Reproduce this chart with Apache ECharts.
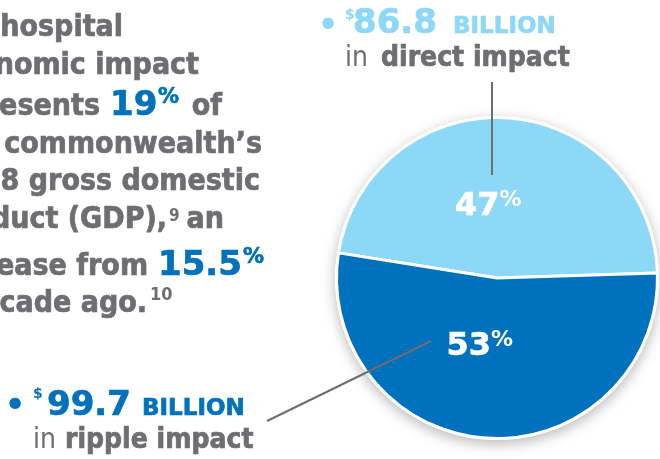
<!DOCTYPE html>
<html>
<head>
<meta charset="utf-8">
<script src="https://cdn.jsdelivr.net/npm/echarts@6/dist/echarts.min.js"></script>
<style>
  html, body { margin: 0; padding: 0; background: #ffffff; }
  #chart { width: 660px; height: 459px; }
</style>
</head>
<body>
<div id="chart"></div>
<script>
// Impact split (share of total, percent) and the dollar amounts behind it
const categories = ['direct impact', 'ripple impact'];
const sharePct = [47, 53];
const billions = ['86.8', '99.7'];

// Headline figures quoted in the paragraph
const gdpSharePct = '19';
const gdpSharePrevPct = '15.5';

const GRAY = '#6d6e71';
const LIGHT = '#8dd7f7';
const DARK = '#0071bc';
const BODY_FONT = '"DejaVu Sans Condensed", "DejaVu Sans", sans-serif';
const NUM_FONT = '"DejaVu Sans", sans-serif';

const PIE_CX = 497, PIE_CY = 278, PIE_R = 160;

// Text placed by its baseline (middle anchor sits ~0.25em above it);
// bold runs get a thin same-colour outline for a heavier stroke weight
function txt(str, x, base, size, opts) {
  opts = opts || {};
  const weight = opts.weight || 'bold';
  const family = opts.family || BODY_FONT;
  const color = opts.color || GRAY;
  const style = {
    text: str,
    fill: color,
    font: weight + ' ' + size + 'px ' + family,
    align: opts.align || 'left',
    verticalAlign: 'middle'
  };
  if (weight === 'bold' && size >= 20) {
    style.stroke = color;
    style.lineWidth = 0.7;
  }
  return { type: 'text', x: x, y: base - 0.25 * size, z: 10, silent: true, style: style };
}

const graphics = [
  // backdrop disc: white rim with a soft drop shadow
  {
    type: 'circle', z: 0, silent: true,
    shape: { cx: PIE_CX, cy: PIE_CY, r: PIE_R + 2 },
    style: { fill: '#ffffff', shadowBlur: 14, shadowOffsetY: 4, shadowColor: 'rgba(0,0,0,0.28)' }
  },

  // paragraph
  txt('The hospital', 123, 36, 30, { align: 'right' }),
  txt('economic impact', 199, 74, 30, { align: 'right' }),
  txt('represents', 100, 115, 30, { align: 'right' }),
  txt(gdpSharePct, 110, 115, 34, { color: DARK, family: NUM_FONT }),
  txt('%', 158, 103, 21, { color: DARK, family: NUM_FONT }),
  txt('of', 222, 115, 30, { align: 'right' }),
  txt('the commonwealth\u2019s', 262, 153, 30, { align: 'right' }),
  txt('2018 gross domestic', 260, 190, 30, { align: 'right' }),
  txt('product (GDP),', 167, 228, 30, { align: 'right' }),
  txt('9', 169, 221, 17),
  txt('an', 224, 228, 30, { align: 'right' }),
  txt('increase from', 148, 275, 30, { align: 'right' }),
  txt(gdpSharePrevPct, 158, 275, 34, { color: DARK, family: NUM_FONT }),
  txt('%', 243, 263, 21, { color: DARK, family: NUM_FONT }),
  txt('a decade ago.', 147, 312, 30, { align: 'right' }),
  txt('10', 150, 300, 18),

  // direct impact callout
  txt('\u2022', 328, 35, 30, { color: LIGHT, align: 'center', family: NUM_FONT }),
  txt('$', 345, 19, 14, { color: LIGHT, family: NUM_FONT }),
  txt(billions[0], 353, 33, 34, { color: LIGHT, family: NUM_FONT }),
  txt('BILLION', 453, 33, 23, { color: LIGHT, family: NUM_FONT }),
  txt('in', 345, 66, 28, { weight: 'normal' }),
  txt(categories[0], 381, 66, 28),
  { type: 'line', z: 5, silent: true,
    shape: { x1: 492, y1: 82, x2: 492, y2: 175 },
    style: { stroke: GRAY, lineWidth: 2 } },

  // ripple impact callout
  txt('\u2022', 15, 415, 30, { color: DARK, align: 'center', family: NUM_FONT }),
  txt('$', 33, 398, 14, { color: DARK, family: NUM_FONT }),
  txt(billions[1], 47, 415, 34, { color: DARK, family: NUM_FONT }),
  txt('BILLION', 142, 415, 23, { color: DARK, family: NUM_FONT }),
  txt('in', 33, 448, 28, { weight: 'normal' }),
  txt(categories[1], 65, 448, 28),
  { type: 'line', z: 5, silent: true,
    shape: { x1: 267, y1: 421, x2: 431, y2: 341 },
    style: { stroke: GRAY, lineWidth: 2 } }
];

const chart = echarts.init(document.getElementById('chart'), null, { renderer: 'canvas' });

// label nudges for the two slices (pixels)
const labelShift = [{ dx: -14, dy: 12 }, { dx: -12, dy: -14 }];

chart.setOption({
  animation: false,
  backgroundColor: '#ffffff',
  graphic: graphics,
  series: [{
    type: 'pie',
    z: 2,
    center: [PIE_CX, PIE_CY],
    radius: [0, PIE_R + 0.5],
    startAngle: 171,
    clockwise: true,
    silent: true,
    avoidLabelOverlap: false,
    itemStyle: { borderColor: '#ffffff', borderWidth: 3 },
    label: {
      show: true,
      position: 'inside',
      formatter: function (p) { return '{n|' + p.value + '}{p|%}'; },
      rich: {
        n: { fontFamily: NUM_FONT, fontWeight: 'bold', fontSize: 32, color: '#ffffff', lineHeight: 36,
             textBorderColor: '#ffffff', textBorderWidth: 0.6 },
        p: { fontFamily: NUM_FONT, fontWeight: 'bold', fontSize: 22, color: '#ffffff', verticalAlign: 'top', lineHeight: 24 }
      }
    },
    labelLine: { show: false },
    labelLayout: function (params) { return labelShift[params.dataIndex]; },
    data: categories.map(function (c, i) {
      return { name: c, value: sharePct[i], itemStyle: { color: i === 0 ? LIGHT : DARK } };
    })
  }]
});
</script>
</body>
</html>
